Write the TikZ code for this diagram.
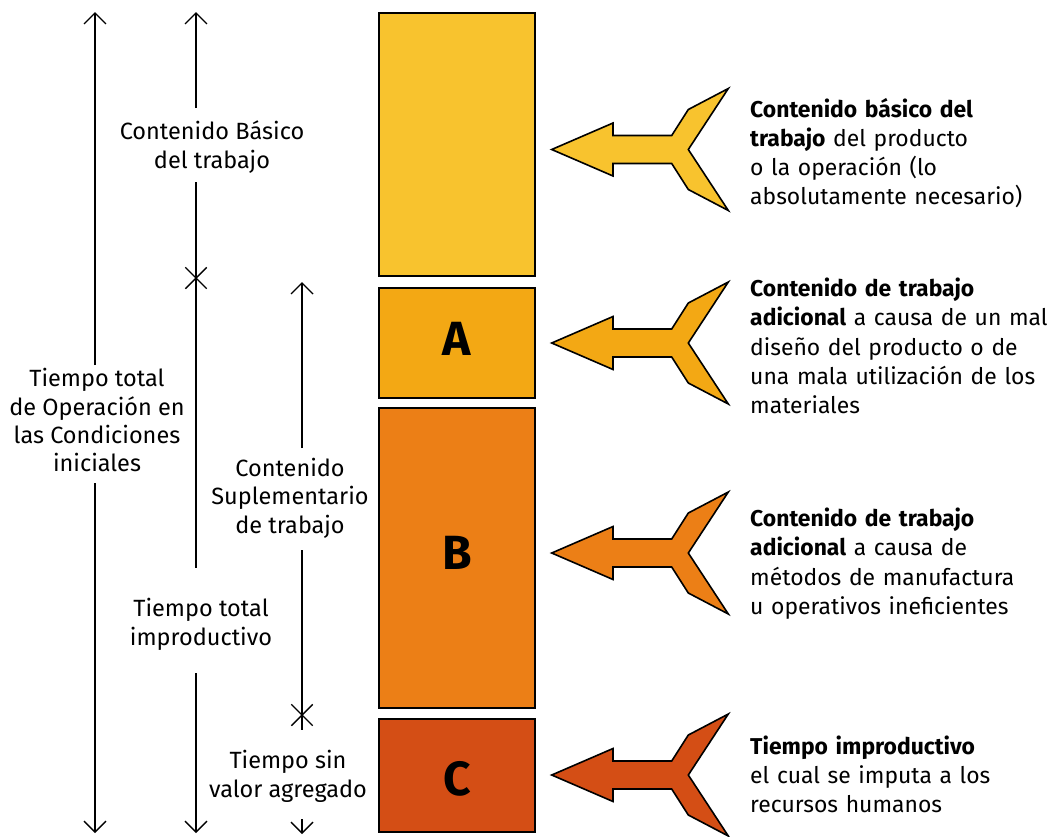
\documentclass[tikz,border=0pt]{standalone}
\usepackage{fontspec}
\setmainfont{Fira Sans}
\usetikzlibrary{arrows.meta,shapes.misc}
\definecolor{cbasic}{HTML}{F8C32E}
\definecolor{ca}{HTML}{F3A814}
\definecolor{cb}{HTML}{EC7F16}
\definecolor{cc}{HTML}{D44E15}
\begin{document}
\begin{tikzpicture}[x=1pt,y=-1pt,
  dim/.style={line width=1.4pt},
  dimarrow/.style={dim,-{Straight Barb[length=11pt,width=22pt]}},
  xmark/.style={cross out,draw,line width=1.4pt,minimum size=20pt,inner sep=0pt},
  lbl/.style={font=\fontsize{23.5}{28.3}\selectfont,align=center,inner sep=0pt,anchor=base},
  desc/.style={font=\fontsize{22.9}{29.2}\selectfont,align=left,text width=330pt,inner sep=0pt,anchor=base west},
  seg/.style={draw=black,line width=2pt,minimum width=156pt,inner sep=0pt},
  letter/.style={font=\fontsize{48}{48}\selectfont\bfseries,inner sep=0pt},
  fat/.style={draw=black,line width=1.6pt,line join=miter}
]
\useasboundingbox (0,0) rectangle (1051,836);

% column of segments
\node[seg,fill=cbasic,minimum height=263pt] (basic) at (457,144.5) {};
\node[seg,fill=ca,minimum height=110pt] (sa) at (457,343) {};
\node[seg,fill=cb,minimum height=300pt] (sb) at (457,558) {};
\node[seg,fill=cc,minimum height=113pt] (sc) at (457,775.5) {};
\node[letter] (la) at (457,339) {A};
\node[letter] (lb) at (457,553) {B};
\node[letter] (lc) at (457,779) {C};

% left labels (anchor = baseline of last line)
\node[lbl] (tot) at (97,471.7) {Tiempo total\\de Operación en\\las Condiciones\\iniciales};
\node[lbl] (bas) at (212,168) {Contenido Básico\\del trabajo};
\node[lbl] (sup) at (290,533) {Contenido\\Suplementario\\de trabajo};
\node[lbl] (imp) at (201,645) {Tiempo total\\improductivo};
\node[lbl] (svag) at (288,797) {Tiempo sin\\valor agregado};

% dimension line 1 (total)
\coordinate (t1top) at (95,12);
\coordinate (t1up) at (95,365);
\coordinate (t1lo) at (95,483);
\coordinate (t1bot) at (95,833);
\draw[dimarrow] (t1up) -- (t1top);
\draw[dimarrow] (t1lo) -- (t1bot);

% dimension line 2 (basic / improductive)
\coordinate (t2top) at (196,12);
\coordinate (t2up) at (196,108);
\coordinate (t2lo) at (196,182);
\node[xmark] (x1) at (196,278) {};
\coordinate (t2mid) at (196,568);
\coordinate (t2lo2) at (196,673);
\coordinate (t2bot) at (196,833);
\draw[dimarrow] (t2up) -- (t2top);
\draw[dim] (t2lo) -- (x1.center) -- (t2mid);
\draw[dimarrow] (t2lo2) -- (t2bot);

% dimension line 3 (supplementary / without value)
\coordinate (t3top) at (302,282);
\coordinate (t3up) at (302,448);
\coordinate (t3lo) at (302,550);
\node[xmark] (x2) at (302,715) {};
\coordinate (t3end) at (302,730);
\coordinate (t3s) at (302,819);
\coordinate (t3bot) at (302,834);
\draw[dimarrow] (t3up) -- (t3top);
\draw[dim] (t3lo) -- (x2.center) -- (t3end);
\draw[dimarrow] (t3s) -- (t3bot);

% fat arrows
\foreach \yc/\col/\nm in {149.5/cbasic/fa0, 343/ca/fa1, 553/cb/fa2, 775/cc/fa3}{
  \draw[fat,fill=\col] (551.7,\yc) -- (613,\yc-26.5) -- (613,\yc-14) -- (671.7,\yc-14)
    -- (688.3,\yc-40) -- (728.3,\yc-61) -- (688.3,\yc) -- (728.3,\yc+61)
    -- (688.3,\yc+40) -- (671.7,\yc+14) -- (613,\yc+14) -- (613,\yc+26.5) -- cycle;
}

% descriptions
\node[desc] (d0) at (750,117) {\textbf{Contenido básico del}\\\textbf{trabajo} del producto\\o la operación (lo\\absolutamente necesario)};
\node[desc] (d1) at (750,296.7) {\textbf{Contenido de trabajo}\\\textbf{adicional} a causa de un mal\\diseño del producto o de\\una mala utilización de los\\materiales};
\node[desc] (d2) at (750,526.7) {\textbf{Contenido de trabajo}\\\textbf{adicional} a causa de\\métodos de manufactura\\u operativos ineficientes};
\node[desc] (d3) at (750,754) {\textbf{Tiempo improductivo}\\el cual se imputa a los\\recursos humanos};
\end{tikzpicture}
\end{document}
